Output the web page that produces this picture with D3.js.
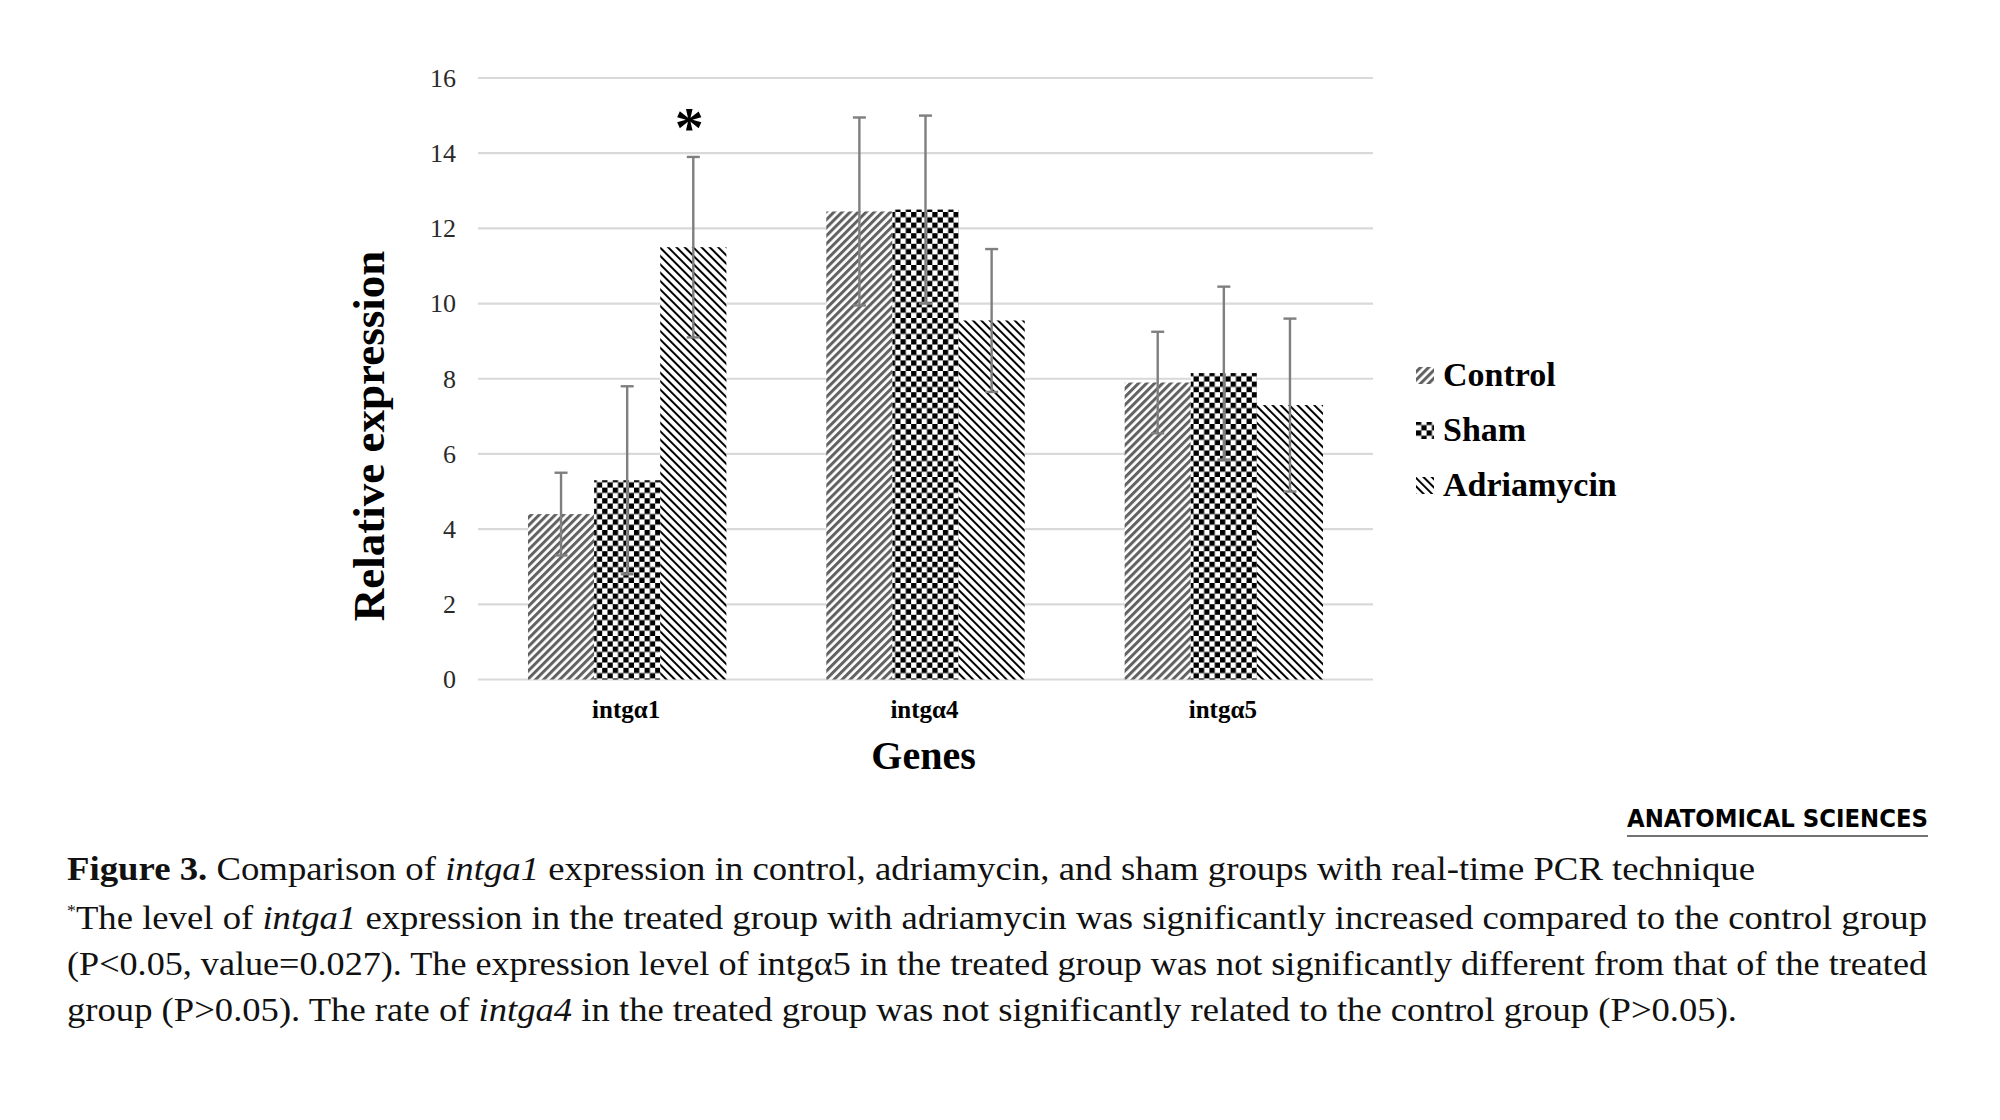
<!DOCTYPE html>
<html>
<head>
<meta charset="utf-8">
<script src="https://cdn.jsdelivr.net/npm/d3@7"></script>
<style>
  body { margin: 0; background: #fff; }
  svg { display: block; }
</style>
</head>
<body>
<div id="chart"></div>
<script>
// values
const genes = ["intgα1", "intgα4", "intgα5"];
const groups = ["Control", "Sham", "Adriamycin"];
const control = [4.4, 12.45, 7.9];
const controlErr = [1.1, 2.5, 1.35];
const sham = [5.3, 12.5, 8.15];
const shamErr = [2.5, 2.5, 2.3];
const adriamycin = [11.5, 9.55, 7.3];
const adriamycinErr = [2.4, 1.9, 2.3];
const yTicks = [0, 2, 4, 6, 8, 10, 12, 14, 16];

const series = [
    { name: "Control", values: control, errs: controlErr, fill: "url(#pControl)" },
    { name: "Sham", values: sham, errs: shamErr, fill: "url(#pSham)" },
    { name: "Adriamycin", values: adriamycin, errs: adriamycinErr, fill: "url(#pAdria)" }
];

const W = 2000, H = 1120;
const svg = d3.select("#chart").append("svg")
    .attr("width", W)
    .attr("height", H);

svg.append("rect").attr("width", W).attr("height", H).attr("fill", "#fff");

// hatch patterns
const defs = svg.append("defs");
const pc = defs.append("pattern")
    .attr("id", "pControl")
    .attr("patternUnits", "userSpaceOnUse")
    .attr("width", 5.7).attr("height", 5.7)
    .attr("patternTransform", "rotate(45)");
pc.append("rect").attr("width", 5.7).attr("height", 5.7).attr("fill", "#fff");
pc.append("rect").attr("width", 3).attr("height", 5.7).attr("fill", "#626262");

const ps = defs.append("pattern")
    .attr("id", "pSham")
    .attr("patternUnits", "userSpaceOnUse")
    .attr("width", 10.6).attr("height", 10.6);
ps.append("rect").attr("width", 10.6).attr("height", 10.6).attr("fill", "#fff");
ps.append("rect").attr("width", 5.3).attr("height", 5.3).attr("fill", "#000");
ps.append("rect").attr("x", 5.3).attr("y", 5.3).attr("width", 5.3).attr("height", 5.3).attr("fill", "#000");

const pa = defs.append("pattern")
    .attr("id", "pAdria")
    .attr("patternUnits", "userSpaceOnUse")
    .attr("width", 5.9).attr("height", 5.9)
    .attr("patternTransform", "rotate(-45)");
pa.append("rect").attr("width", 5.9).attr("height", 5.9).attr("fill", "#fff");
pa.append("rect").attr("width", 2).attr("height", 5.9).attr("fill", "#000");

const plotLeft = 478, plotRight = 1373, plotTop = 78, plotBottom = 679.5;

const x = d3.scaleBand().domain(genes).range([plotLeft, plotRight])
    .paddingInner(0.335).paddingOuter(0.1675);
const xg = d3.scaleBand().domain(groups).range([0, x.bandwidth()]);
const y = d3.scaleLinear().domain([0, 16]).range([plotBottom, plotTop]);

// gridlines
svg.append("g")
    .selectAll("line")
    .data(yTicks)
    .join("line")
    .attr("x1", plotLeft).attr("x2", plotRight)
    .attr("y1", d => y(d)).attr("y2", d => y(d))
    .attr("stroke", "#d9d9d9")
    .attr("stroke-width", 2.2);

// y axis labels
const yAxis = svg.append("g")
    .attr("transform", `translate(${plotLeft - 10},0)`)
    .call(d3.axisLeft(y).tickValues(yTicks).tickSize(0).tickPadding(12).tickFormat(d3.format("d")));
yAxis.select(".domain").remove();
yAxis.selectAll("text")
    .style("font", "26px 'Liberation Serif', serif")
    .attr("fill", "#2a2a2a");

// bars
const gGroups = svg.append("g")
    .selectAll("g")
    .data(genes)
    .join("g")
    .attr("transform", d => `translate(${x(d)},0)`);

series.forEach(s => {
    gGroups.append("rect")
        .attr("x", xg(s.name))
        .attr("width", xg.bandwidth())
        .attr("y", (d, i) => y(s.values[i]))
        .attr("height", (d, i) => plotBottom - y(s.values[i]))
        .attr("fill", s.fill);
});

// error bars
series.forEach(s => {
    const cx = xg(s.name) + xg.bandwidth() / 2;
    const eb = gGroups.append("g")
        .attr("stroke", "#7f7f7f")
        .attr("stroke-width", 2.4)
        .attr("fill", "none");
    eb.append("line")
        .attr("x1", cx).attr("x2", cx)
        .attr("y1", (d, i) => y(s.values[i] + s.errs[i]))
        .attr("y2", (d, i) => y(s.values[i] - s.errs[i]));
    eb.append("line")
        .attr("x1", cx - 6.5).attr("x2", cx + 6.5)
        .attr("y1", (d, i) => y(s.values[i] + s.errs[i]))
        .attr("y2", (d, i) => y(s.values[i] + s.errs[i]));
    eb.append("line")
        .attr("x1", cx - 6.5).attr("x2", cx + 6.5)
        .attr("y1", (d, i) => y(s.values[i] - s.errs[i]))
        .attr("y2", (d, i) => y(s.values[i] - s.errs[i]));
});

// significance star over adriamycin, intga1
svg.append("text")
    .attr("x", x(genes[0]) + xg("Adriamycin") + xg.bandwidth() / 2 - 4)
    .attr("y", y(adriamycin[0] + adriamycinErr[0]) - 10)
    .attr("text-anchor", "middle")
    .style("font", "bold 58px 'Liberation Serif', serif")
    .text("*");

// x labels
svg.append("g")
    .selectAll("text")
    .data(genes)
    .join("text")
    .attr("x", d => x(d) + x.bandwidth() / 2 - 1)
    .attr("y", 718)
    .attr("text-anchor", "middle")
    .style("font", "bold 25px 'Liberation Serif', serif")
    .text(d => d);

svg.append("text")
    .attr("x", (plotLeft + plotRight) / 2 - 2)
    .attr("y", 769)
    .attr("text-anchor", "middle")
    .style("font", "bold 40px 'Liberation Serif', serif")
    .text("Genes");

svg.append("text")
    .attr("transform", "translate(384,436) rotate(-90)")
    .attr("text-anchor", "middle")
    .style("font", "bold 45px 'Liberation Serif', serif")
    .text("Relative expression");

// legend
const legend = svg.append("g")
    .selectAll("g")
    .data(series)
    .join("g")
    .attr("transform", (d, i) => `translate(1416,${386 + i * 55})`);
legend.append("rect")
    .attr("y", -19).attr("width", 18).attr("height", 17)
    .attr("fill", d => d.fill);
legend.append("text")
    .attr("x", 27)
    .style("font", "bold 34px 'Liberation Serif', serif")
    .text(d => d.name);

// journal mark
svg.append("text")
    .attr("x", 1627).attr("y", 827)
    .attr("textLength", 301)
    .attr("lengthAdjust", "spacingAndGlyphs")
    .style("font", "bold 24px 'DejaVu Sans', sans-serif")
    .attr("fill", "#000")
    .text("ANATOMICAL SCIENCES");
svg.append("line")
    .attr("x1", 1627).attr("x2", 1928)
    .attr("y1", 836).attr("y2", 836)
    .attr("stroke", "#444").attr("stroke-width", 1.5);

// caption
const capFont = "33px 'Liberation Serif', serif";
const captionLines = [
    { y: 880, len: 1688, parts: [["Figure 3.", "b"], [" Comparison of ", ""], ["intga1", "i"], [" expression in control, adriamycin, and sham groups with real-time PCR technique", ""]] },
    { y: 929, len: 1860, parts: [["*", "s"], ["The level of ", "d"], ["intga1", "i"], [" expression in the treated group with adriamycin was significantly increased compared to the control group", ""]] },
    { y: 975, len: 1860, parts: [["(P<0.05, value=0.027). The expression level of intgα5 in the treated group was not significantly different from that of the treated", ""]] },
    { y: 1021, len: 1670, parts: [["group (P>0.05). The rate of ", ""], ["intga4", "i"], [" in the treated group was not significantly related to the control group (P>0.05).", ""]] }
];
captionLines.forEach(l => {
    const t = svg.append("text")
        .attr("x", 67).attr("y", l.y)
        .attr("textLength", l.len)
        .attr("lengthAdjust", "spacingAndGlyphs")
        .style("font", capFont)
        .attr("fill", "#111");
    l.parts.forEach(p => {
        const ts = t.append("tspan").text(p[0]);
        if (p[1] === "b") ts.attr("font-weight", "bold");
        if (p[1] === "i") ts.attr("font-style", "italic");
        if (p[1] === "s") ts.attr("font-size", 16).attr("dy", -13);
        if (p[1] === "d") ts.attr("dy", 13);
    });
});
</script>
</body>
</html>
